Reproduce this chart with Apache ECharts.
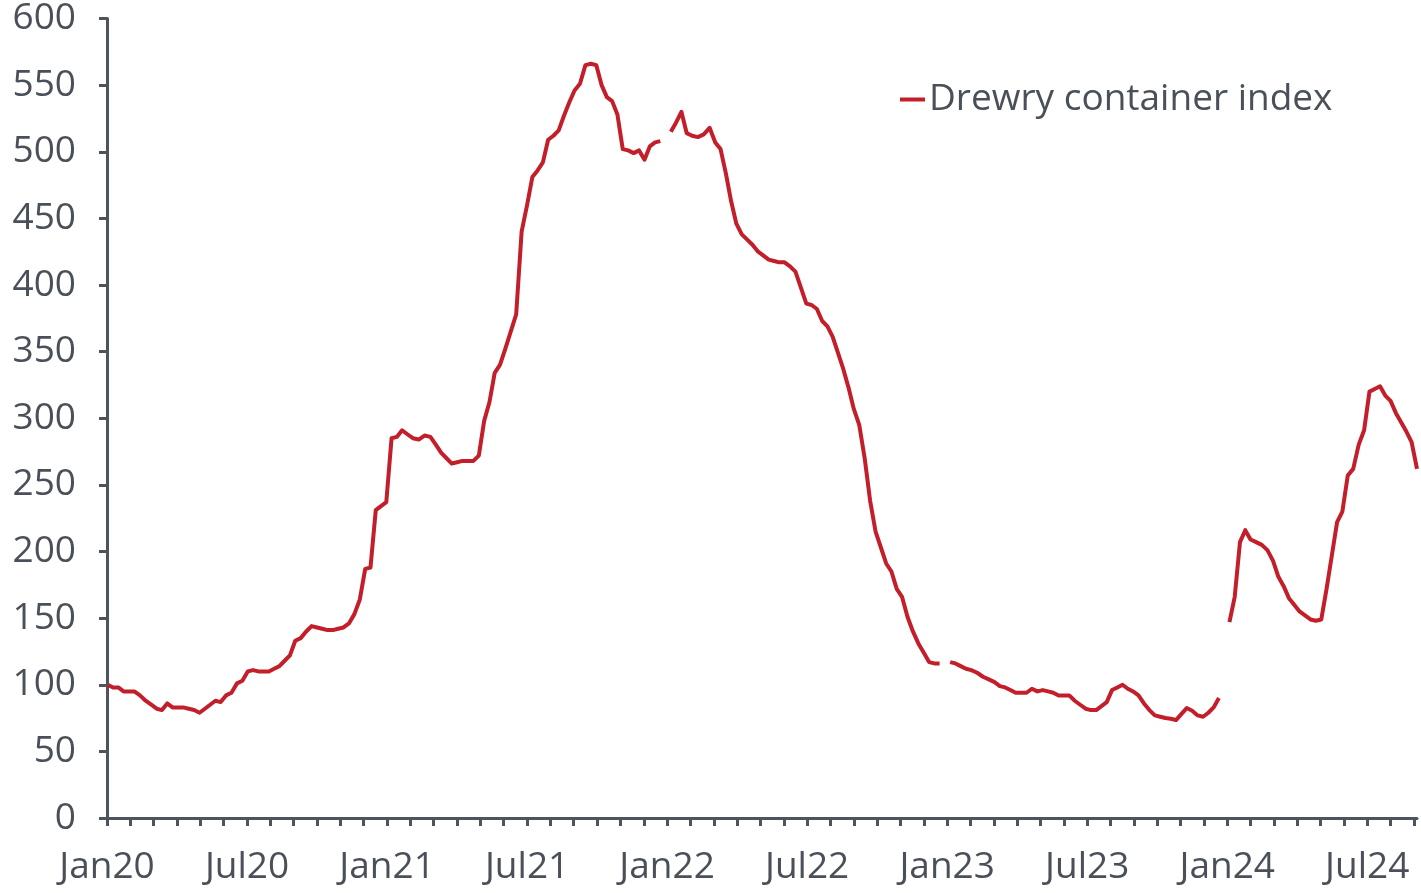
<!DOCTYPE html>
<html>
<head>
<meta charset="utf-8">
<script src="https://cdn.jsdelivr.net/npm/echarts@6/dist/echarts.min.js"></script>
<style>
  html, body { margin: 0; padding: 0; background: #ffffff; }
  #chart { width: 1421px; height: 893px; }
</style>
</head>
<body>
<div id="chart"></div>
<script>
// Weekly readings (Thursdays) starting 2 Jan 2020; null marks a week with no print.
const startDate = [2020, 0, 2];
const seriesName = 'Drewry container index';
const indexValues = [
  100, 98, 98, 95, 95, 95, 92, 88, 85, 82,
  81, 86, 83, 83, 83, 82, 81, 79, 82, 85,
  88, 87, 92, 94, 101, 103, 110, 111, 110, 110,
  110, 112, 114, 118, 122, 133, 135, 140, 144, 143,
  142, 141, 141, 142, 143, 146, 153, 164, 187, 188,
  231, 234, 237, 285, 286, 291, 288, 285, 284, 287,
  286, 280, 274, 270, 266, 267, 268, 268, 268, 272,
  298, 312, 334, 340, 352, 365, 378, 440, 460, 481,
  486, 492, 509, 512, 516, 527, 537, 546, 551, 565,
  566, 565, 550, 541, 538, 528, 502, 501, 499, 501,
  494, 504, 507, 508, null, 515, 522, 530, 514, 512,
  511, 513, 518, 507, 502, 484, 463, 446, 438, 434,
  430, 425, 422, 419, 418, 417, 417, 414, 410, 398,
  386, 385, 382, 373, 369, 361, 349, 337, 323, 307,
  295, 270, 238, 215, 203, 191, 185, 172, 166, 151,
  140, 131, 124, 117, 116, 116, null, 117, 116, 114,
  112, 111, 109, 106, 104, 102, 99, 98, 96, 94,
  94, 94, 97, 95, 96, 95, 94, 92, 92, 92,
  88, 85, 82, 81, 81, 84, 87, 96, 98, 100,
  97, 95, 92, 86, 81, 77, 76, 75, 74.5, 73.5,
  78, 82.5, 80.5, 77, 76, 79, 83, 90, null, 147,
  166, 207, 216, 209, 207, 205, 201, 193, 181, 174,
  165, 160, 155, 152, 149, 148, 149, 172, 197, 222,
  230, 257, 262, 280, 291, 320, 322, 324, 317, 313,
  304, 297, 290, 282, 262
];
// Half-yearly labels on the month axis (month 0 = Jan 2020)
const tickLabels = ['Jan20', 'Jul20', 'Jan21', 'Jul21', 'Jan22', 'Jul22', 'Jan23', 'Jul23', 'Jan24', 'Jul24'];
const yMin = 0, yMax = 600, yStep = 50;

// Position each week on a month scale: months since Jan 2020 plus the fraction of the month.
function monthPosition(i) {
  const d = new Date(Date.UTC(startDate[0], startDate[1], startDate[2] + 7 * i));
  const y = d.getUTCFullYear(), m = d.getUTCMonth(), day = d.getUTCDate();
  const dim = new Date(Date.UTC(y, m + 1, 0)).getUTCDate();
  return (y - 2020) * 12 + m + (day - 1) / dim;
}
const points = indexValues.map((v, i) => [monthPosition(i), v]);
const xEnd = points[points.length - 1][0];

const axisGrey = '#4d545c';
const textGrey = '#4a5059';
const lineRed = '#c21f2b';
const font = '"Open Sans", "Noto Sans", sans-serif';

const chart = echarts.init(document.getElementById('chart'), null, { renderer: 'canvas' });
chart.setOption({
  animation: false,
  backgroundColor: '#ffffff',
  grid: { left: 107, right: 4, top: 18, bottom: 75, containLabel: false },
  legend: {
    data: [seriesName],
    left: 895,
    top: 76,
    icon: 'rect',
    itemWidth: 25,
    itemHeight: 4,
    itemGap: 4,
    textStyle: { color: textGrey, fontSize: 37, fontFamily: font, padding: [0, 0, 0, -1] }
  },
  xAxis: {
    type: 'value',
    min: 0,
    max: xEnd,
    interval: 1,
    axisLine: { show: true, lineStyle: { color: axisGrey, width: 3 } },
    axisTick: { show: true, inside: false, length: 8, lineStyle: { color: axisGrey, width: 3 } },
    splitLine: { show: false },
    axisLabel: {
      color: textGrey,
      fontSize: 37,
      fontFamily: font,
      margin: 31,
      showMaxLabel: false,
      formatter: function (v) {
        if (Math.abs(v - Math.round(v)) > 1e-6) return '';
        const k = Math.round(v);
        return k % 6 === 0 ? (tickLabels[k / 6] || '') : '';
      }
    }
  },
  yAxis: {
    type: 'value',
    min: yMin,
    max: yMax,
    interval: yStep,
    axisLine: { show: true, lineStyle: { color: axisGrey, width: 3 } },
    axisTick: { show: true, inside: false, length: 8, lineStyle: { color: axisGrey, width: 3 } },
    splitLine: { show: false },
    axisLabel: { color: textGrey, fontSize: 37, fontFamily: font, margin: 31 }
  },
  series: [{
    name: seriesName,
    type: 'line',
    data: points,
    showSymbol: false,
    symbol: 'none',
    connectNulls: false,
    lineStyle: { color: lineRed, width: 4, join: 'round' },
    itemStyle: { color: lineRed }
  }]
});
</script>
</body>
</html>
